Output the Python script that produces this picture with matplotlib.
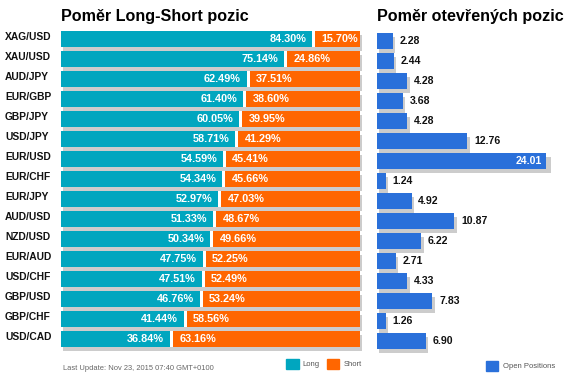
import matplotlib
matplotlib.use("Agg")
import matplotlib.pyplot as plt
from matplotlib.patches import Rectangle
import numpy as np

plt.rcParams['font.family'] = ['Liberation Sans', 'DejaVu Sans']

pairs = ["XAG/USD", "XAU/USD", "AUD/JPY", "EUR/GBP", "GBP/JPY", "USD/JPY", "EUR/USD", "EUR/CHF",
         "EUR/JPY", "AUD/USD", "NZD/USD", "EUR/AUD", "USD/CHF", "GBP/USD", "GBP/CHF", "USD/CAD"]
long_pct = [84.30, 75.14, 62.49, 61.40, 60.05, 58.71, 54.59, 54.34,
            52.97, 51.33, 50.34, 47.75, 47.51, 46.76, 41.44, 36.84]
short_pct = [15.70, 24.86, 37.51, 38.60, 39.95, 41.29, 45.41, 45.66,
             47.03, 48.67, 49.66, 52.25, 52.49, 53.24, 58.56, 63.16]
open_pos = [2.28, 2.44, 4.28, 3.68, 4.28, 12.76, 24.01, 1.24,
            4.92, 10.87, 6.22, 2.71, 4.33, 7.83, 1.26, 6.90]
title_left = "Poměr Long-Short pozic"
title_right = "Poměr otevřených pozic"
legend_long = "Long"
legend_short = "Short"
legend_open = "Open Positions"
last_update = "Last Update: Nov 23, 2015 07:40 GMT+0100"

TEAL = "#00a6bf"
ORANGE = "#ff6600"
BLUE = "#2a70da"
SHADOW = "#cccccc"

W, H = 571, 380
fig = plt.figure(figsize=(W / 100, H / 100), dpi=100)
fig.patch.set_facecolor("white")

y = np.arange(len(pairs))
uy = 1 / 20.0
bh = 0.8

# ---- left chart ----
ax1 = fig.add_axes([61 / W, 1 - 349 / H, 299 / W, 320 / H])
ax1.set_xlim(0, 100)
ax1.set_ylim(len(pairs) - 0.5, -0.5)
ax1.axis('off')
ux1 = 100 / 299.0
long_a = np.array(long_pct)
short_a = np.array(short_pct)
ax1.barh(y + 4 * uy, long_a + short_a, left=2 * ux1, height=bh, color=SHADOW, zorder=1, clip_on=False)
ax1.barh(y, long_a, height=bh, color=TEAL, zorder=2, clip_on=False)
ax1.barh(y, short_a, left=long_a, height=bh, color=ORANGE, zorder=2, clip_on=False)
ax1.barh(y, 3 * ux1, left=long_a - 1.2 * ux1, height=bh, color="white", zorder=3, clip_on=False)
for i in range(len(pairs)):
    ax1.text(long_a[i] - 7 * ux1, y[i] + 0.5 * uy, f"{long_a[i]:.2f}%", ha='right', va='center',
             color='white', fontsize=7.8, fontweight='bold', zorder=4)
    ax1.text(long_a[i] + 8 * ux1, y[i] + 0.5 * uy, f"{short_a[i]:.2f}%", ha='left', va='center',
             color='white', fontsize=7.8, fontweight='bold', zorder=4)
    ax1.text(-56 * ux1, y[i] - 2.5 * uy, pairs[i], ha='left', va='center', color='#111111',
             fontsize=7.4, fontweight='bold', clip_on=False)

# ---- right chart ----
ax2 = fig.add_axes([377 / W, 1 - 351 / H, 176 / W, 320 / H])
ax2.set_xlim(0, 25)
ax2.set_ylim(len(pairs) - 0.5, -0.5)
ax2.axis('off')
ux2 = 1 / 7.04
op = np.array(open_pos)
ax2.barh(y + 4 * uy, op * 1.018, left=2 * ux2, height=bh, color=SHADOW, zorder=1, clip_on=False)
ax2.barh(y, op, height=bh, color=BLUE, zorder=2, clip_on=False)
for i in range(len(pairs)):
    v = op[i]
    if v >= 20:
        ax2.text(v - 4 * ux2, y[i] + 0.5 * uy, f"{v:.2f}", ha='right', va='center', color='white',
                 fontsize=7.6, fontweight='bold', zorder=4)
    else:
        ax2.text(2 * ux2 + v * 1.018 + 4 * ux2, y[i] + 0.5 * uy, f"{v:.2f}", ha='left', va='center',
                 color='#111111', fontsize=7.6, fontweight='bold', zorder=4, clip_on=False)

# ---- titles ----
fig.text(61 / W, 1 - 21 / H, title_left, fontsize=11.6, fontweight='bold', va='baseline', ha='left')
fig.text(377 / W, 1 - 21 / H, title_right, fontsize=11.6, fontweight='bold', va='baseline', ha='left')

# ---- legends ----
def sq(x0, y0, x1, y1, c):
    fig.patches.append(Rectangle((x0 / W, 1 - y1 / H), (x1 - x0) / W, (y1 - y0) / H,
                                 transform=fig.transFigure, color=c, figure=fig))

sq(286, 359.3, 298.7, 368.7, TEAL)
fig.text(302 / W, 1 - 364 / H, legend_long, fontsize=5.5, color='#555555', va='center', ha='left')
sq(327, 359.3, 339.3, 368.7, ORANGE)
fig.text(344 / W, 1 - 364 / H, legend_short, fontsize=5.5, color='#555555', va='center', ha='left')
sq(486, 361, 498.3, 370.7, BLUE)
fig.text(503.3 / W, 1 - 366 / H, legend_open, fontsize=5.5, color='#555555', va='center', ha='left')
fig.text(63.3 / W, 1 - 368.3 / H, last_update, fontsize=5.4, color='#666666', va='center', ha='left')

fig.savefig("out.png", dpi=100, facecolor="white")
